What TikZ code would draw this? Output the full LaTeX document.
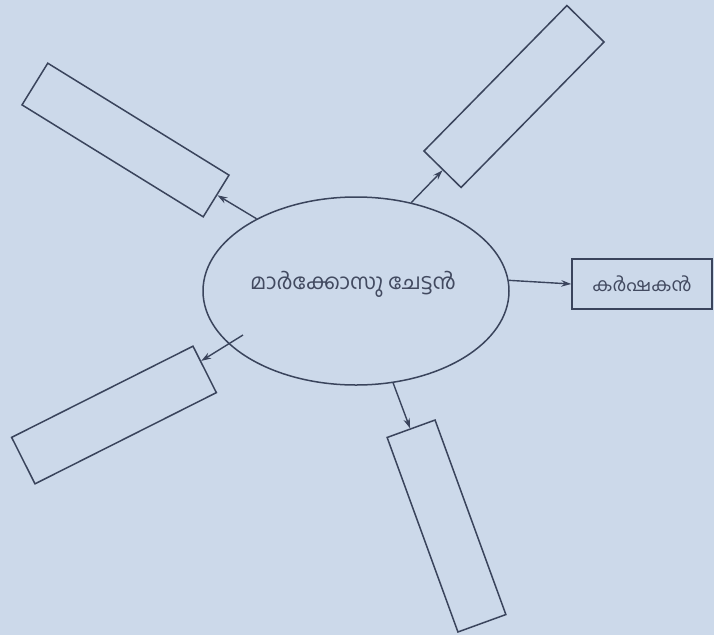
\documentclass[tikz,border=0pt]{standalone}
\usepackage{fontspec}
\newfontfamily\malfont[Script=Malayalam]{Hind Kochi}
\usetikzlibrary{shapes.geometric,arrows.meta}
\definecolor{paper}{RGB}{204,217,234}
\definecolor{ink}{RGB}{58,68,92}
\definecolor{textink}{RGB}{66,74,96}
\tikzset{
  blankbox/.style={draw=ink, line width=1.5pt, minimum height=50pt, inner sep=0pt},
  link/.style={draw=ink, line width=1.4pt, -{Stealth[length=10pt,width=6.5pt]}},
}
\begin{document}
\begin{tikzpicture}[x=1pt,y=-1pt]
\fill[paper] (0,0) rectangle (714,635);
\useasboundingbox (0,0) rectangle (714,635);
\node[ellipse, draw=ink, line width=1.5pt, minimum width=306pt, minimum height=188pt, inner sep=0pt] (e) at (356,291) {};
\node[text=textink, font=\malfont\fontsize{21.5}{24}\selectfont] (et) at (353,284) {മാർക്കോസു ചേട്ടൻ};
\node[blankbox, minimum width=140pt, text=textink, font=\malfont\fontsize{18.5}{20}\selectfont] (k) at (642,284) {കർഷകൻ};
\node[blankbox, minimum width=213pt, minimum height=49pt, rotate=-31.7] (tl) at (125.5,140) {};
\node[blankbox, minimum width=204pt, minimum height=52pt, rotate=45.5] (tr) at (514,96.5) {};
\node[blankbox, minimum width=203pt, minimum height=52pt, rotate=26.7] (bl) at (114,415) {};
\node[blankbox, minimum width=207pt, minimum height=51pt, rotate=-70] (bt) at (446.5,526) {};
\coordinate (blstart) at (243,335);
\draw[link] (e.144) -- (tl);
\draw[link] (e.58) -- (tr);
\draw[link] (e.4) -- (k.west);
\draw[link] (blstart) -- (bl);
\draw[link] (e.292) -- (bt);
\end{tikzpicture}
\end{document}
